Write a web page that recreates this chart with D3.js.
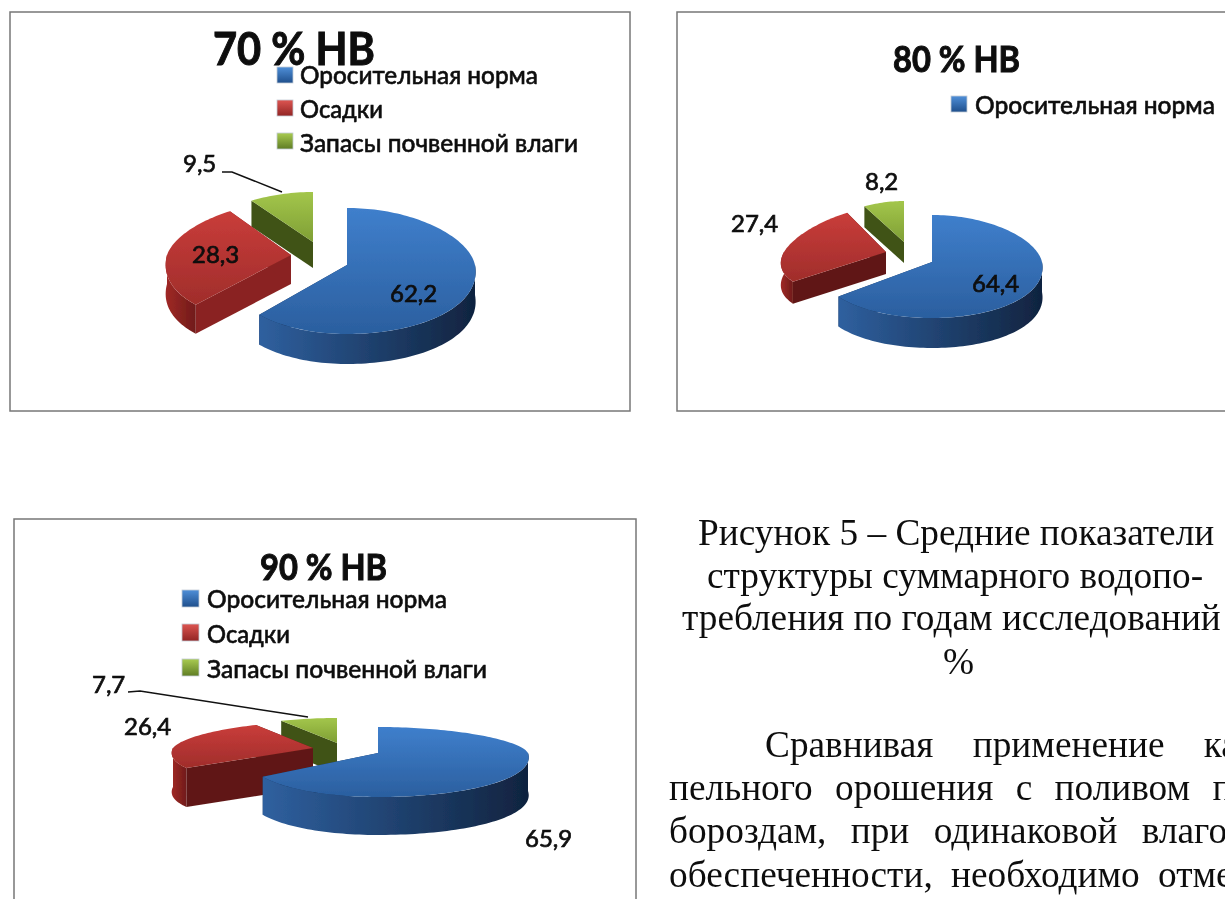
<!DOCTYPE html>
<html><head><meta charset="utf-8">
<script src="https://cdn.jsdelivr.net/npm/d3@7/dist/d3.min.js"></script>
<style>html,body{margin:0;padding:0;background:#fff;overflow:hidden}svg{display:block}</style>
</head><body>
<svg id="c" width="1225" height="899"></svg>
<script>
// ---- data ----
const categories = ["Оросительная норма", "Осадки", "Запасы почвенной влаги"];
const titles = ["70 % НВ", "80 % НВ", "90 % НВ"];
const values70 = [62.2, 28.3, 9.5];
const values80 = [64.4, 27.4, 8.2];
const values90 = [65.9, 26.4, 7.7];
const captionLines = ["Рисунок 5 – Средние показатели", "структуры суммарного водопо-", "требления по годам исследований", "%"];
const bodyLines = ["Сравнивая применение ка-", "пельного орошения с поливом по", "бороздам, при одинаковой влаго-", "обеспеченности, необходимо отме-"];

// ---- layout ----
const panels = [
 {values:values70, title:titles[0], frame:[10,12,620,399], redCut:"#8a2421",
  titleAt:[213,65,45,162], legendShown:3, swatchX:277, swatchY:[67,100,133], swatchS:16, textX:300, baselines:[84,118,152], fs:24, widths:[238,83,278],
  slices:[
   {ax:347,ay:265,rxL:118,rxR:128,ryB:57,ryF:69,k:.1,h:30},
   {ax:291,ay:255,rxL:124,rxR:124,ryB:53,ryF:69,k:.15,h:29},
   {ax:313,ay:242,rxL:125,rxR:125,ryB:50,ryF:50,k:.15,h:26}],
  labels:[[390,302],[192,263],[183,172]], lfs:24,
  leaders:[[[222,172],[232,172],[282,192]]]},
 {values:values80, title:titles[1], frame:[677,12,620,399],
  titleAt:[893,72,36,127], legendShown:1, swatchX:951, swatchY:[96], swatchS:16, textX:975, baselines:[114], fs:24, widths:[240],
  slices:[
   {ax:932,ay:262,rxL:112,rxR:110,ryB:47,ryF:56,k:.1,h:30},
   {ax:886,ay:252,rxL:102,rxR:102,ryB:45,ryF:48,k:.26,h:22},
   {ax:904,ay:242,rxL:104,rxR:104,ryB:41,ryF:41,k:.26,h:21}],
  labels:[[972,292],[731,232],[865,190]], lfs:24, leaders:[]},
 {values:values90, title:titles[2], frame:[14,519,622,420],
  titleAt:[260,580,36,127], legendShown:3, swatchX:182, swatchY:[590,624,659], swatchS:17, textX:207, baselines:[608,643,678], fs:24, widths:[240,83,280],
  slices:[
   {ax:378,ay:753,rxL:130,rxR:150,ryB:26,ryF:44,k:.1,h:38},
   {ax:313,ay:748,rxL:140,rxR:140,ryB:26,ryF:37,k:.14,h:39},
   {ax:337,ay:743,rxL:137,rxR:137,ryB:25,ryF:25,k:.14,h:30}],
  labels:[[525,847],[124,735],[92,693]], lfs:24,
  leaders:[[[128,692],[140,691],[308,717]]]}
];
const palette = [
 {top:["#3f7fcc","#2b5f9f"], side:["#2f609f","#10233f"], cut:"#17325a", sw:["#4f8fd8","#1f4f8c"]},
 {top:["#c93d3a","#a02d2b"], side:["#a02926","#701b19"], cut:"#611916", sw:["#dd5551","#922524"]},
 {top:["#a3c64b","#7f9f35"], side:["#556f22","#3a4d15"], cut:"#3f5318", sw:["#a9cb50","#5f7d25"]}
];

const svg = d3.select("#c");
const defs = svg.append("defs");
function grad(id,stops,horizontal){
  const g = defs.append("linearGradient").attr("id",id).attr("x1",0).attr("y1",0)
    .attr("x2",horizontal?1:0).attr("y2",horizontal?0:1);
  stops.forEach((c,i)=>g.append("stop").attr("offset",i/(stops.length-1)).attr("stop-color",c));
}
palette.forEach((p,i)=>{
  grad("top"+i,p.top,false); grad("side"+i,p.side,true); grad("sw"+i,p.sw,false);
});
defs.append("filter").attr("id","soft").append("feGaussianBlur").attr("stdDeviation",0.6);
defs.append("filter").attr("id","softText").append("feGaussianBlur").attr("stdDeviation",0.35);

const pie = d3.pie().sort(null).value(d=>d);
const line = d3.line();

function project(s,a,r,dz){
  const sa=Math.sin(a), ca=Math.cos(a);
  const rx = sa>0? s.rxR : s.rxL, ry = ca>0? s.ryB : s.ryF;
  return [s.ax + r*sa*rx*(1-s.k*ca), s.ay - r*ca*ry + dz];
}
function sampleAngles(a0,a1){
  const n=Math.max(2,Math.ceil((a1-a0)/0.03));
  return d3.range(n+1).map(i=>a0+(a1-a0)*i/n);
}

panels.forEach(P=>{
  const g = svg.append("g");
  g.append("rect").attr("x",P.frame[0]).attr("y",P.frame[1]).attr("width",P.frame[2]).attr("height",P.frame[3])
    .attr("fill","#fff").attr("stroke","#777").attr("stroke-width",1.5);

  const arcs = pie(P.values);
  const marks = g.append("g").attr("filter","url(#soft)");
  // paint back to front: the smallest, most distant slice first
  d3.range(arcs.length-1,-1,-1).forEach(i=>{
    const d=arcs[i], s=P.slices[i], sl=marks.append("g");
    const angs=sampleAngles(d.startAngle,d.endAngle);
    const cut = (i===1 && P.redCut) ? P.redCut : palette[i].cut;
    [d.startAngle,d.endAngle].forEach(a=>{
      sl.append("path").attr("fill",cut).attr("d",line([
        project(s,a,0,0),project(s,a,1,0),project(s,a,1,s.h),project(s,a,0,s.h)])+"Z");
    });
    const lo=Math.max(d.startAngle,Math.PI/2), hi=Math.min(d.endAngle,Math.PI*1.5);
    if(hi>lo){
      const w=sampleAngles(lo,hi);
      sl.append("path").attr("fill",`url(#side${i})`).attr("d",
        line(w.map(a=>project(s,a,1,0)).concat(w.slice().reverse().map(a=>project(s,a,1,s.h))))+"Z");
    }
    sl.append("path").attr("fill",`url(#top${i})`).attr("d",
      line([project(s,0,0,0)].concat(angs.map(a=>project(s,a,1,0))))+"Z");
  });

  const txt = g.append("g").attr("filter","url(#softText)").attr("fill","#0a0a0a")
    .style("font-family","Lato, 'Open Sans', sans-serif");
  txt.append("text").attr("x",P.titleAt[0]).attr("y",P.titleAt[1]).attr("font-size",P.titleAt[2])
    .attr("font-weight",700).attr("stroke","#0a0a0a").attr("stroke-width",1)
    .attr("textLength",P.titleAt[3]).attr("lengthAdjust","spacingAndGlyphs").text(P.title);

  d3.range(P.legendShown).forEach(i=>{
    g.append("rect").attr("x",P.swatchX).attr("y",P.swatchY[i]).attr("width",P.swatchS).attr("height",P.swatchS)
      .attr("fill",`url(#sw${i})`).attr("stroke","#c4ccd6").attr("stroke-width",.8);
    txt.append("text").attr("x",P.textX).attr("y",P.baselines[i]).attr("font-size",P.fs).attr("font-weight",500)
      .attr("stroke","#0a0a0a").attr("stroke-width",.5)
      .attr("textLength",P.widths[i]).attr("lengthAdjust","spacingAndGlyphs").text(categories[i]);
  });

  arcs.forEach((d,i)=>{
    txt.append("text").attr("x",P.labels[i][0]).attr("y",P.labels[i][1]).attr("font-size",P.lfs)
      .attr("stroke","#0a0a0a").attr("stroke-width",.7)
      .text(String(d.data).replace(".",","));
  });
  P.leaders.forEach(l=>{
    g.append("path").attr("d",line(l)).attr("fill","none").attr("stroke","#111").attr("stroke-width",1.5);
  });
});

// ---- document text around the figures ----
const doc = svg.append("g").attr("filter","url(#softText)").attr("fill","#111")
  .style("font-family","'Liberation Serif', serif").attr("font-size",37.3);
const capX=[698,707,682,943], capY=[545,588,630,674];
captionLines.forEach((t,i)=>doc.append("text").attr("x",capX[i]).attr("y",capY[i]).text(t));
const bodyX=[765,669,669,669], bodyY=[757,800,843,887], bodyWS=[30,13,15,9];
bodyLines.forEach((t,i)=>doc.append("text").attr("x",bodyX[i]).attr("y",bodyY[i]).attr("word-spacing",bodyWS[i]).text(t));
</script>
</body></html>
